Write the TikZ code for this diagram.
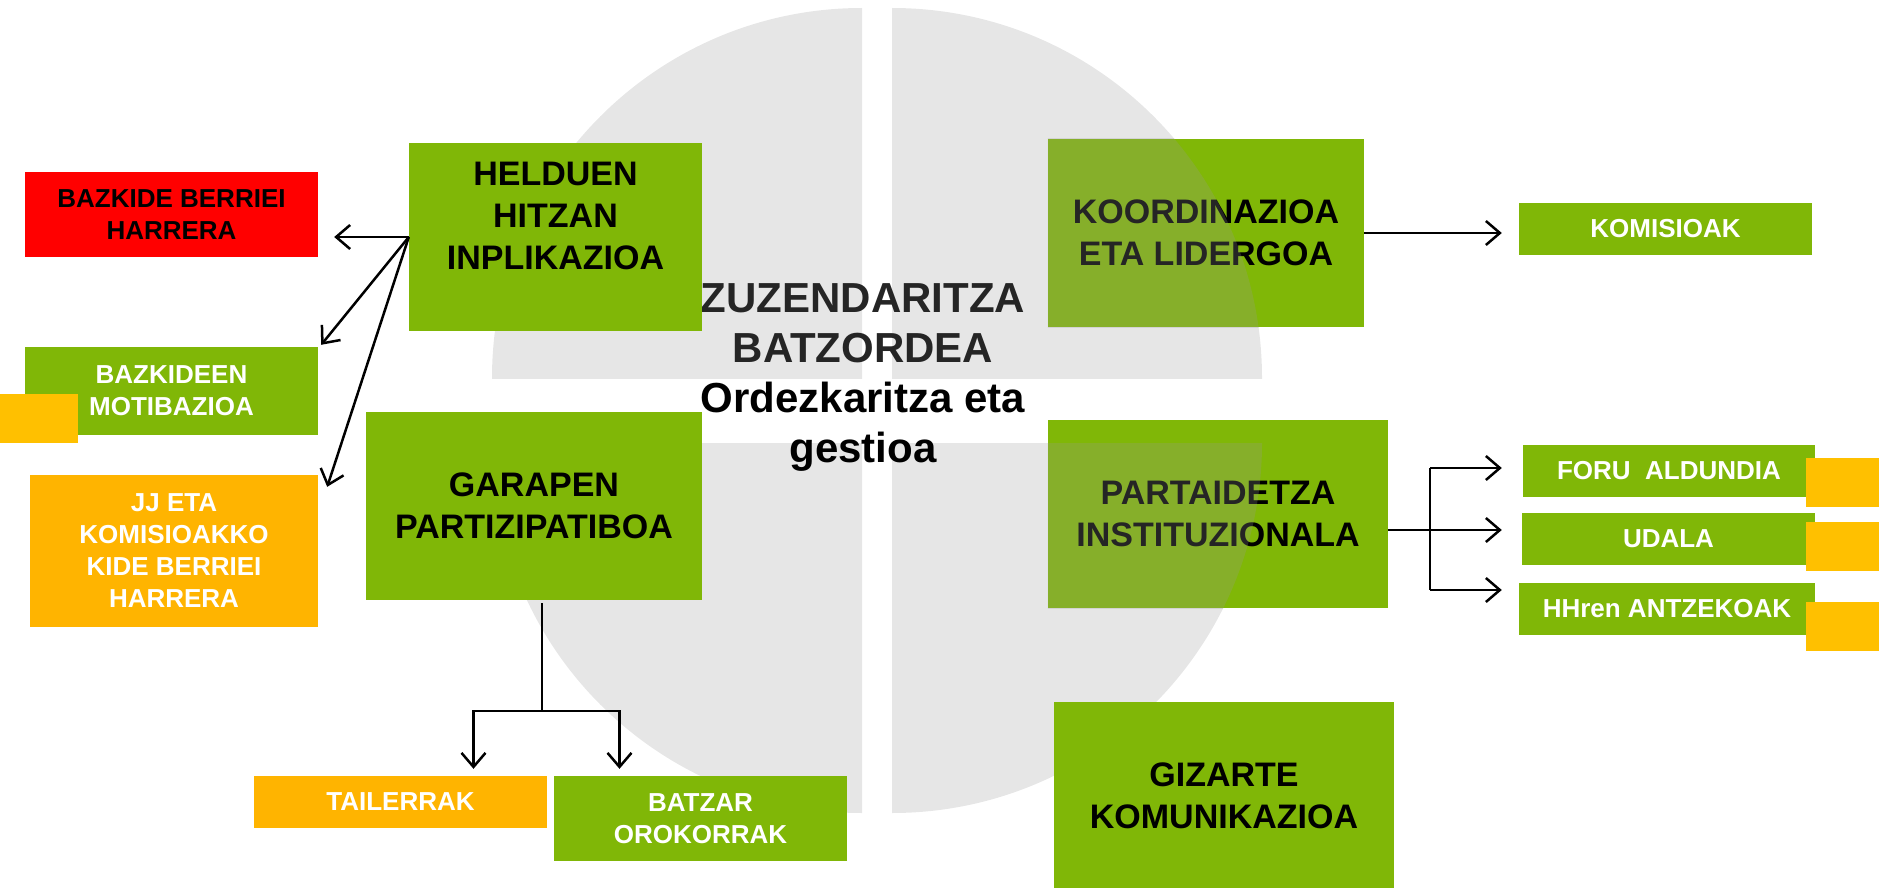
\documentclass[tikz,border=0pt]{standalone}
\usepackage{fontspec}
\setmainfont{Liberation Sans}
\usetikzlibrary{arrows.meta,calc}

\definecolor{boxgreen}{RGB}{128,183,7}
\definecolor{boxorange}{RGB}{255,180,0}
\definecolor{tagorange}{RGB}{255,192,0}
\definecolor{piegray}{RGB}{230,230,230}
\definecolor{titlegray}{RGB}{37,37,37}

\begin{document}
\begin{tikzpicture}[x=1pt,y=-1pt,
    >={Straight Barb[length=14pt,width=24pt]},
    bigbox/.style={fill=boxgreen,inner sep=0pt,minimum height=188pt,align=center,
      font=\bfseries\fontsize{34}{42}\selectfont},
    smallbox/.style={inner sep=0pt,align=center,text=white,
      font=\bfseries\fontsize{26}{32}\selectfont},
    tagbox/.style={fill=tagorange,inner sep=0pt,minimum width=78pt,minimum height=49pt},
    link/.style={line width=2.5pt}]
    \useasboundingbox (0, 0) rectangle (1879, 888);

    % exploded pie behind the boxes
    \begin{scope}
      \clip (862, 378) rectangle (472, 0);
      \fill[piegray] (862, 378) circle[radius=370];
    \end{scope}
    \begin{scope}
      \clip (892, 378) rectangle (1282, 0);
      \fill[piegray] (892, 378) circle[radius=370];
    \end{scope}
    \begin{scope}
      \clip (862, 443) rectangle (472, 830);
      \fill[piegray] (862, 443) circle[radius=370];
    \end{scope}
    \begin{scope}
      \clip (892, 443) rectangle (1282, 830);
      \fill[piegray] (892, 443) circle[radius=370];
    \end{scope}

    \node[align=center,inner sep=0pt,font=\bfseries\fontsize{42}{50}\selectfont] (title) at (863, 377)
      {\textcolor{titlegray}{ZUZENDARITZA}\\\textcolor{titlegray}{BATZORDEA}\\Ordezkaritza eta\\gestioa};

    \node[bigbox,minimum width=293pt] (helduen) at (555.5, 237) {HELDUEN\\HITZAN\\INPLIKAZIOA\\~};
    \node[bigbox,minimum width=316pt] (koord) at (1206, 233) {KOORDINAZIOA\\ETA LIDERGOA};
    \node[bigbox,minimum width=336pt] (garapen) at (534, 506) {GARAPEN\\PARTIZIPATIBOA};
    \node[bigbox,minimum width=340pt] (partaid) at (1218, 514) {PARTAIDETZA\\INSTITUZIONALA};
    \node[bigbox,minimum width=340pt] (gizarte) at (1224, 796) {GIZARTE\\KOMUNIKAZIOA};

    \node[smallbox,fill=red,text=black,minimum width=293pt,minimum height=85pt] (bazkide) at (171.5, 214.5) {BAZKIDE BERRIEI\\HARRERA};
    \node[smallbox,fill=boxgreen,minimum width=293pt,minimum height=88pt] (motib) at (171.5, 391) {BAZKIDEEN\\MOTIBAZIOA};
    \node[smallbox,fill=boxorange,minimum width=288pt,minimum height=152pt] (jj) at (174, 551) {JJ ETA\\KOMISIOAKKO\\KIDE BERRIEI\\HARRERA};
    \node[smallbox,fill=boxorange,minimum width=293pt,minimum height=52pt] (tailer) at (400.5, 802) {TAILERRAK};
    \node[smallbox,fill=boxgreen,minimum width=293pt,minimum height=85pt] (batzar) at (700.5, 818.5) {BATZAR\\OROKORRAK};
    \node[smallbox,fill=boxgreen,minimum width=293pt,minimum height=52pt] (komis) at (1665.5, 229) {KOMISIOAK};
    \node[smallbox,fill=boxgreen,minimum width=292pt,minimum height=52pt] (foru) at (1669, 471) {FORU\ \ ALDUNDIA};
    \node[smallbox,fill=boxgreen,minimum width=293pt,minimum height=52pt] (udala) at (1668.5, 539) {UDALA};
    \node[smallbox,fill=boxgreen,minimum width=296pt,minimum height=52pt] (hhren) at (1667, 609) {HHren ANTZEKOAK};

    \node[tagbox] (tag0) at (39, 418.5) {};
    \node[tagbox] (tag1) at (1845, 482.5) {};
    \node[tagbox] (tag2) at (1845, 546.5) {};
    \node[tagbox] (tag3) at (1845, 626.5) {};

    % right quarters lie over their boxes
    \begin{scope}
      \clip (koord.north west) rectangle (koord.south east);
      \clip (892, 378) rectangle (1282, 0);
      \fill[black!40,opacity=.245] (892, 378) circle[radius=370];
    \end{scope}
    \begin{scope}
      \clip (partaid.north west) rectangle (partaid.south east);
      \clip (892, 443) rectangle (1282, 830);
      \fill[black!40,opacity=.245] (892, 443) circle[radius=370];
    \end{scope}

    \path[draw,link,->] (helduen.west) -- ($(helduen.west -| bazkide.east)+(16,0)$);
    \path[draw,link,->] (helduen.west) -- ([xshift=3pt,yshift=2pt]motib.north east);
    \path[draw,link,->] (helduen.west) -- ([xshift=9pt,yshift=-12pt]jj.north east);

    \coordinate (gsplit) at (542, 711);
    \path[draw,link] ([xshift=8pt,yshift=-3pt]garapen.south) -- (gsplit);
    \path[draw,link,->] (gsplit) -| ([xshift=73pt,yshift=7pt]tailer.north);
    \path[draw,link,->] (gsplit) -| ([xshift=-81pt,yshift=7pt]batzar.north);

    \path[draw,link,->,shorten >=17pt] (koord.east) -- (koord.east -| komis.west);

    \coordinate (psplit) at (1430, 530);
    \coordinate (pa) at (1430, 468);
    \coordinate (pc) at (1430, 590);
    \path[draw,link] ([yshift=-16pt]partaid.east) -- (psplit);
    \path[draw,link] (pa) -- (pc);
    \path[draw,link,->,shorten >=21pt] (pa) -- (pa -| foru.west);
    \path[draw,link,->,shorten >=20pt] (psplit) -- (psplit -| udala.west);
    \path[draw,link,->,shorten >=17pt] (pc) -- (pc -| hhren.west);
  \end{tikzpicture}
\end{document}
